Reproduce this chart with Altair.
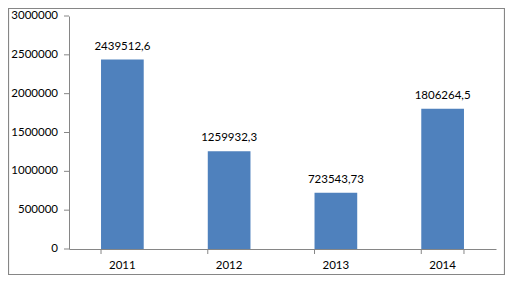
import altair as alt
import pandas as pd

years = ["2011", "2012", "2013", "2014"]
values = [2439512.6, 1259932.3, 723543.73, 1806264.5]
labels = ["2439512,6", "1259932,3", "723543,73", "1806264,5"]
y_ticks = [0, 500000, 1000000, 1500000, 2000000, 2500000, 3000000]

df = pd.DataFrame({"year": years, "value": values, "label": labels})
ydf = pd.DataFrame({"v": y_ticks, "t": [str(v) for v in y_ticks]})

FONT = "Lato"
AXIS_COLOR = "#868686"

x_scale = alt.Scale(domain=years, paddingInner=0.6, paddingOuter=0.3)
y_scale = alt.Scale(domain=[0, 3000000], nice=False)

x_axis = alt.Axis(title=None, labelAngle=0, ticks=False, domainColor=AXIS_COLOR,
                  labelFont=FONT, labelFontSize=11.5, labelColor="#000000",
                  labelPadding=10, grid=False)
y_axis = alt.Axis(title=None, labels=False, ticks=False, grid=False,
                  domainColor=AXIS_COLOR)

bars = alt.Chart(df).mark_bar(color="#4F81BD").encode(
    x=alt.X("year:N", scale=x_scale, sort=years, axis=x_axis),
    y=alt.Y("value:Q", scale=y_scale, axis=y_axis),
)

text = alt.Chart(df).mark_text(baseline="bottom", dy=-8, font=FONT, fontSize=11.5,
                               color="#000000").encode(
    x=alt.X("year:N", scale=x_scale, sort=years, axis=x_axis),
    y=alt.Y("value:Q", scale=y_scale, axis=y_axis),
    text="label:N",
)

ytick_marks = alt.Chart(ydf).mark_rule(color=AXIS_COLOR).encode(
    y=alt.Y("v:Q", scale=y_scale, axis=y_axis),
    x=alt.value(-5), x2=alt.value(0),
)
ytick_labels = alt.Chart(ydf).mark_text(align="right", baseline="middle", font=FONT,
                                        fontSize=11.5, color="#000000").encode(
    y=alt.Y("v:Q", scale=y_scale, axis=y_axis),
    x=alt.value(-11),
    text="t:N",
)

tick_df = pd.DataFrame({"year": years})
xticks_start = alt.Chart(tick_df).mark_rule(color=AXIS_COLOR).encode(
    x=alt.X("year:N", scale=x_scale, sort=years, bandPosition=0, axis=x_axis),
    y=alt.value(233), y2=alt.value(238),
)
xticks_end = alt.Chart(pd.DataFrame({"year": [years[-1]]})).mark_rule(color=AXIS_COLOR).encode(
    x=alt.X("year:N", scale=x_scale, sort=years, bandPosition=1, axis=x_axis),
    y=alt.value(233), y2=alt.value(238),
)

border = alt.Chart(pd.DataFrame({"a": [0]})).mark_rect(
    fill=None, stroke=AXIS_COLOR, strokeWidth=1.2).encode(
    x=alt.value(-60.5), x2=alt.value(435.5), y=alt.value(-7.5), y2=alt.value(258.5),
)

chart = alt.layer(bars, text, ytick_marks, ytick_labels, xticks_start, xticks_end, border).properties(
    width=427, height=233,
    background="white",
    padding={"left": 61, "top": 8, "right": 9, "bottom": 27},
    autosize=alt.AutoSizeParams(type="none"),
).configure(
    view=alt.ViewConfig(stroke=None),
)

chart.save("out.html", embed_options={"renderer": "svg", "actions": False})
